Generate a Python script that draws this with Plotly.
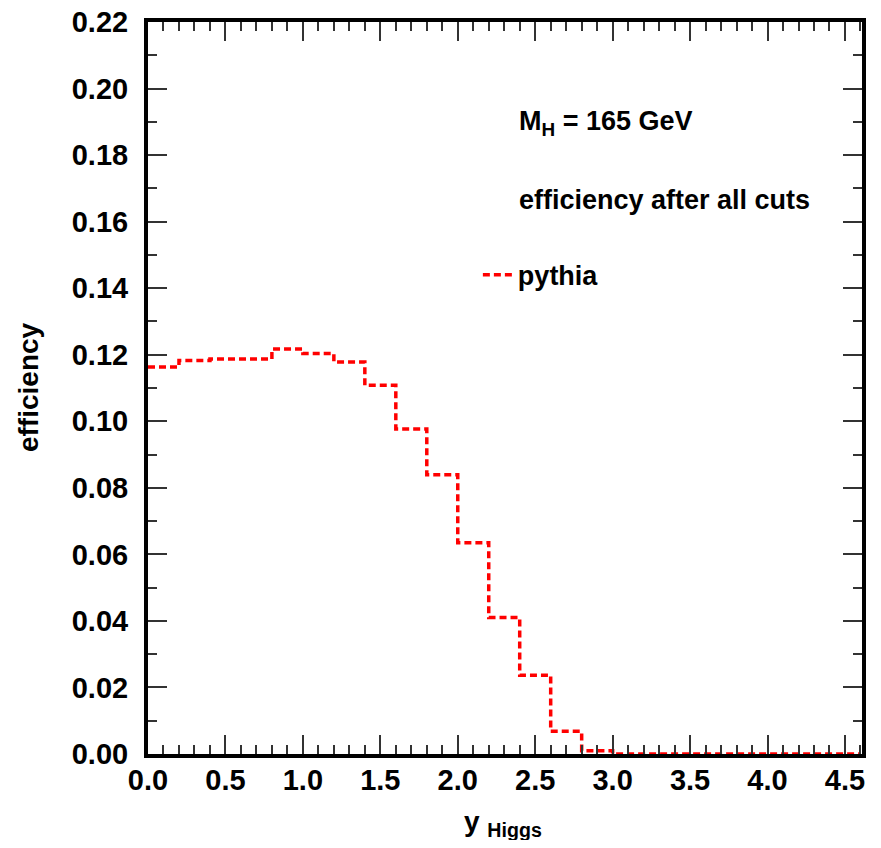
import plotly.graph_objects as go

# bin edges (width 0.2) and efficiency per bin
bin_edges = [round(0.2 * i, 1) for i in range(24)]  # 0.0 .. 4.6
efficiency = [0.1163, 0.1183, 0.1187, 0.1187, 0.1217, 0.1204, 0.1178, 0.1108,
              0.0977, 0.0839, 0.0635, 0.0410, 0.0237, 0.0068, 0.0010,
              0.0, 0.0, 0.0, 0.0, 0.0, 0.0, 0.0, 0.0]
x_ticks = [0.0, 0.5, 1.0, 1.5, 2.0, 2.5, 3.0, 3.5, 4.0, 4.5]
x_ticklabels = ["0.0", "0.5", "1.0", "1.5", "2.0", "2.5", "3.0", "3.5", "4.0", "4.5"]
y_ticks = [0.00, 0.02, 0.04, 0.06, 0.08, 0.10, 0.12, 0.14, 0.16, 0.18, 0.20, 0.22]
y_ticklabels = ["0.00", "0.02", "0.04", "0.06", "0.08", "0.10", "0.12", "0.14",
                "0.16", "0.18", "0.20", "0.22"]

FONT = "Liberation Sans"

fig = go.Figure()
fig.add_trace(go.Scatter(
    x=bin_edges,
    y=efficiency + [efficiency[-1]],
    mode="lines",
    line=dict(shape="hv", color="#ff0000", width=3.5, dash="7px,4px"),
    name="<b>pythia</b>",
    showlegend=True,
))

axis_common = dict(
    showline=True, linecolor="black", linewidth=4, mirror="allticks",
    ticks="inside", ticklen=19, tickwidth=2, tickcolor="#333333",
    showgrid=False, zeroline=False, automargin=False, ticklabeloverflow="allow",
)

# page body has an 8px margin, so the figure is sized/offset to compensate
fig.update_layout(
    width=865, height=832,
    margin=dict(l=140, r=11, t=14, b=86),
    paper_bgcolor="white", plot_bgcolor="white",
    font=dict(family=FONT, color="black", size=24),
    xaxis=dict(
        range=[0, 4.61], tickvals=x_ticks, ticktext=["<b>%s</b>" % t for t in x_ticklabels],
        tickfont=dict(size=29, family=FONT),
        minor=dict(dtick=0.1, ticklen=9, tickwidth=1.5, tickcolor="#333333", ticks="inside"),
        ticklabelstandoff=-3,
        **axis_common,
    ),
    yaxis=dict(
        range=[0, 0.22], tickvals=y_ticks, ticktext=["<b>%s</b>" % t for t in y_ticklabels],
        tickfont=dict(size=29, family=FONT),
        minor=dict(dtick=0.01, ticklen=9, tickwidth=1.5, tickcolor="#333333", ticks="inside"),
        ticklabelstandoff=10,
        **axis_common,
    ),
    legend=dict(
        x=0.462, y=0.654, xanchor="left", yanchor="middle",
        bgcolor="rgba(0,0,0,0)", font=dict(size=27, family=FONT),
    ),
    annotations=[
        dict(text="<b>M<sub>H</sub> = 165 GeV</b>", x=0.517, y=0.862, xref="paper", yref="paper",
             xanchor="left", yanchor="middle", showarrow=False, font=dict(size=27, family=FONT)),
        dict(text="<b>efficiency after all cuts</b>", x=0.517, y=0.757, xref="paper", yref="paper",
             xanchor="left", yanchor="middle", showarrow=False, font=dict(size=27, family=FONT)),
        dict(text="<b>efficiency</b>", x=-0.167, y=0.501, xref="paper", yref="paper",
             xanchor="center", yanchor="middle", textangle=-90, showarrow=False,
             font=dict(size=28, family=FONT)),
        dict(text="<b>y <sub>Higgs</sub></b>", x=0.497, y=-0.095, xref="paper", yref="paper",
             xanchor="center", yanchor="middle", showarrow=False,
             font=dict(size=28, family=FONT)),
    ],
)

fig.write_html("out.html")
